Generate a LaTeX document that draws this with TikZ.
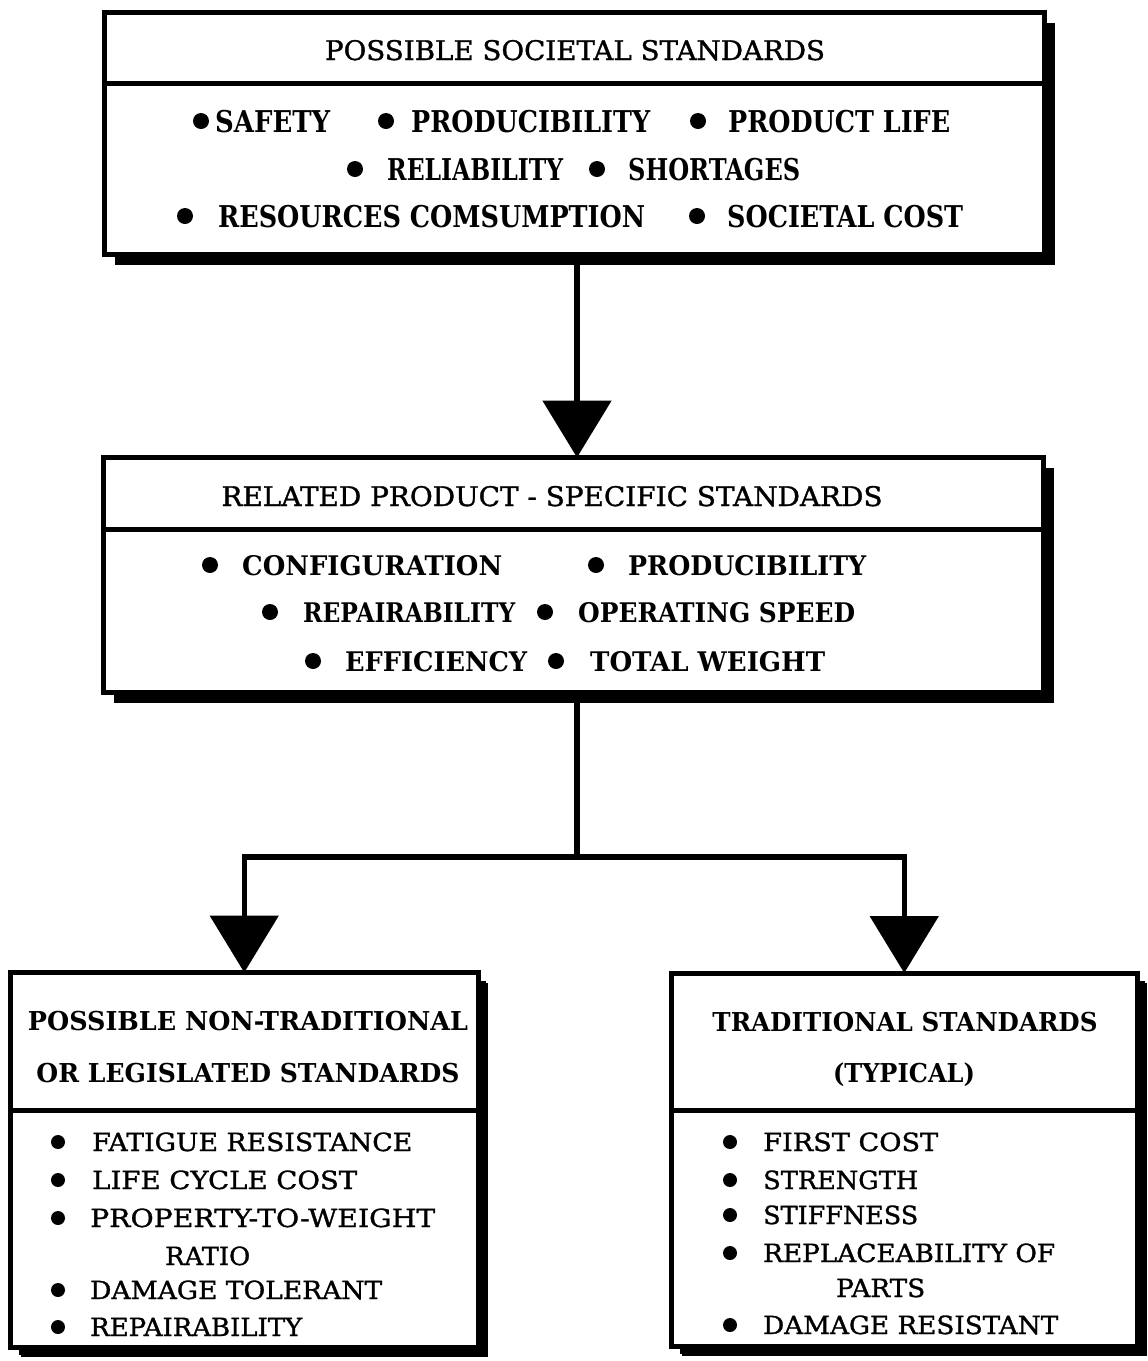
\documentclass[tikz,border=0pt]{standalone}
\usepackage{fontspec}
\usepackage{graphicx}
\setmainfont{DejaVu Serif}
\newfontfamily\inked{DejaVu Serif}[FakeBold=1.2]
\usetikzlibrary{arrows.meta,shadows,calc}

% set a label to a fixed width, keeping its natural height
\newcommand{\fitto}[2]{\resizebox{#1pt}{\height}{#2}}

\tikzset{
  box/.style={draw, line width=5pt, fill=white, inner sep=0pt, outer sep=0pt,
    drop shadow={shadow xshift=10pt, shadow yshift=-10pt, opacity=1, fill=black}},
  boxs/.style={box, drop shadow={shadow xshift=8pt, shadow yshift=-8pt, opacity=1, fill=black}},
  rule/.style={line width=5pt},
  conn/.style={line width=5.5pt, -{Triangle[length=57pt,width=68pt]}},
  lbl/.style={inner sep=0pt, text depth=0pt},
  big/.style={lbl, text height=22pt, font=\fontsize{30}{32}\selectfont\bfseries},
  mid/.style={lbl, text height=20pt, font=\fontsize{27}{30}\selectfont\inked},
  midb/.style={lbl, text height=20pt, font=\fontsize{27}{30}\selectfont\bfseries},
  small/.style={lbl, text height=18pt, font=\fontsize{25}{28}\selectfont\inked},
  smallb/.style={lbl, text height=19pt, font=\fontsize{26}{28}\selectfont\bfseries},
  hd/.style={anchor=center},
  it/.style={anchor=west},
  dot/.style={circle, fill=black, inner sep=0pt, minimum size=16pt},
  dots/.style={dot, minimum size=14pt},
}

\begin{document}
\begin{tikzpicture}[x=1pt, y=-1pt]
\useasboundingbox (0,0) rectangle (1148,1361);

% ---- boxes ----
\node[box, minimum width=940pt, minimum height=242pt] (b1) at (574.5,133.5) {};
\node[box, minimum width=940pt, minimum height=235pt] (b2) at (573.5,575) {};
\node[boxs, minimum width=467.5pt, minimum height=374.5pt] (b3) at (244.25,1159.75) {};
\node[boxs, minimum width=465.5pt, minimum height=373pt] (b4) at (904.25,1159.5) {};

% header dividers
\draw[rule] ([yshift=-71pt]b1.north west) -- ([yshift=-71pt]b1.north east);
\draw[rule] ([yshift=-72pt]b2.north west) -- ([yshift=-72pt]b2.north east);
\draw[rule] ([yshift=-137.5pt]b3.north west) -- ([yshift=-137.5pt]b3.north east);
\draw[rule] ([yshift=-137pt]b4.north west) -- ([yshift=-137pt]b4.north east);

% ---- societal standards ----
\node[mid, hd] (h1) at (575,50) {\fitto{500}{POSSIBLE SOCIETAL STANDARDS}};
\node[dot] (d11) at (201,121) {};
\node[big, it] (s11) at (215,121) {\fitto{115}{SAFETY}};
\node[dot] (d12) at (386,121) {};
\node[big, it] (s12) at (411,121) {\fitto{239}{PRODUCIBILITY}};
\node[dot] (d13) at (698,121) {};
\node[big, it] (s13) at (728,121) {\fitto{222}{PRODUCT LIFE}};
\node[dot] (d14) at (355,169) {};
\node[big, it] (s14) at (387,169) {\fitto{176}{RELIABILITY}};
\node[dot] (d15) at (597,169) {};
\node[big, it] (s15) at (628,169) {\fitto{172}{SHORTAGES}};
\node[dot] (d16) at (185,216) {};
\node[big, it] (s16) at (218,216) {\fitto{427}{RESOURCES COMSUMPTION}};
\node[dot] (d17) at (697,216) {};
\node[big, it] (s17) at (727,216) {\fitto{236}{SOCIETAL COST}};

% ---- product-specific standards ----
\node[mid, hd] (h2) at (552,496) {\fitto{661}{RELATED PRODUCT - SPECIFIC STANDARDS}};
\node[dot] (d21) at (210,565) {};
\node[midb, it] (s21) at (242,565) {\fitto{260}{CONFIGURATION}};
\node[dot] (d22) at (596,565) {};
\node[midb, it] (s22) at (628,565) {\fitto{238}{PRODUCIBILITY}};
\node[dot] (d23) at (270,612) {};
\node[midb, it] (s23) at (303,612) {\fitto{212}{REPAIRABILITY}};
\node[dot] (d24) at (545,612) {};
\node[midb, it] (s24) at (578,612) {\fitto{277}{OPERATING SPEED}};
\node[dot] (d25) at (313,661) {};
\node[midb, it] (s25) at (345,661) {\fitto{182}{EFFICIENCY}};
\node[dot] (d26) at (556,661) {};
\node[midb, it] (s26) at (590,661) {\fitto{235}{TOTAL WEIGHT}};

% ---- non-traditional standards ----
\node[smallb, hd] (h31) at (248,1021) {\fitto{440}{POSSIBLE NON-TRADITIONAL}};
\node[smallb, hd] (h32) at (248,1073) {\fitto{423}{OR LEGISLATED STANDARDS}};
\node[dots] (d31) at (58,1142) {};
\node[small, it] (s31) at (92,1142) {\fitto{320}{FATIGUE RESISTANCE}};
\node[dots] (d32) at (58,1180) {};
\node[small, it] (s32) at (92,1180) {\fitto{265}{LIFE CYCLE COST}};
\node[dots] (d33) at (58,1218) {};
\node[small, it] (s33) at (90,1218) {\fitto{345}{PROPERTY-TO-WEIGHT}};
\node[small, it] (s34) at (165,1256) {\fitto{85}{RATIO}};
\node[dots] (d35) at (58,1290) {};
\node[small, it] (s35) at (90,1290) {\fitto{292}{DAMAGE TOLERANT}};
\node[dots] (d36) at (58,1327) {};
\node[small, it] (s36) at (90,1327) {\fitto{212}{REPAIRABILITY}};

% ---- traditional standards ----
\node[smallb, hd] (h41) at (905,1022) {\fitto{385}{TRADITIONAL STANDARDS}};
\node[smallb, hd] (h42) at (904,1073) {\fitto{142}{(TYPICAL)}};
\node[dots] (d41) at (730,1142) {};
\node[small, it] (s41) at (763,1142) {\fitto{175}{FIRST COST}};
\node[dots] (d42) at (730,1180) {};
\node[small, it] (s42) at (763,1180) {\fitto{155}{STRENGTH}};
\node[dots] (d43) at (730,1215) {};
\node[small, it] (s43) at (763,1215) {\fitto{155}{STIFFNESS}};
\node[dots] (d44) at (730,1253) {};
\node[small, it] (s44) at (763,1253) {\fitto{292}{REPLACEABILITY OF}};
\node[small, it] (s45) at (836,1288) {\fitto{89}{PARTS}};
\node[dots] (d46) at (730,1325) {};
\node[small, it] (s46) at (763,1325) {\fitto{295}{DAMAGE RESISTANT}};

% ---- connectors ----
\coordinate (split) at (577,857);
\draw[conn] (b1.south -| split) -- (b2.north -| split);
\draw[line width=5.5pt] (b2.south -| split) -- (split);
\draw[conn] (split) -| (b3.north);
\draw[conn] (split) -| (b4.north);
\end{tikzpicture}
\end{document}
